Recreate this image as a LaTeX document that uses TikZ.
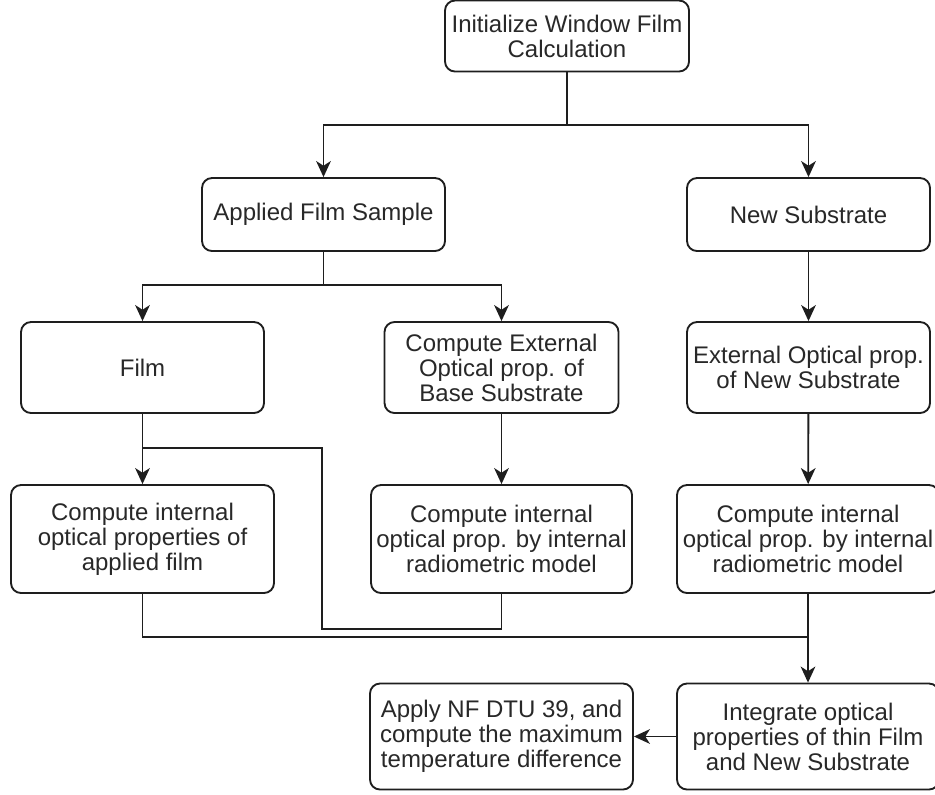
\documentclass[tikz,border=0pt]{standalone}
\usepackage{fontspec}
\setmainfont{Liberation Sans}
\usepackage{tikz}
\usetikzlibrary{arrows.meta,positioning,calc}
\usepackage{xcolor}
\definecolor{cLine}{RGB}{30,30,30}
\definecolor{cText}{RGB}{40,40,40}
\tikzset{
	fbox/.style={draw=cLine, line width=1.4pt, rounded corners=7.5pt,
		fill=white, inner sep=2pt, align=center, text=cText,
		font=\fontsize{18}{18.75}\selectfont},
	farr/.style={-{Stealth[length=12pt,width=11pt,inset=3.5pt]}, line width=1.4pt,
		draw=cLine},
	fline/.style={line width=1.4pt, draw=cLine},
}

\begin{document}
\begin{tikzpicture}[x=0.75pt, y=-0.75pt]
			\useasboundingbox (0,0) rectangle (935,794);
			\node[fbox, minimum width=183pt, minimum height=53.25pt] (init) at (567,36) {Initialize Window Film\\Calculation};
			\node[fbox, minimum width=182.25pt, minimum height=54.75pt] (applied) at (323.5,214.5) {Applied Film Sample};
			\node[fbox, minimum width=182.25pt, minimum height=54.75pt] (newsub) at (808.5,214.5) {New Substrate};
			\node[fbox, minimum width=182.25pt, minimum height=68.25pt] (film) at (142.5,367.5) {Film};
			\node[fbox, minimum width=175.5pt, minimum height=68.25pt] (extbase) at (501.5,367.5) {Compute External\\Optical prop. of\\Base Substrate};
			\node[fbox, minimum width=182.25pt, minimum height=68.25pt] (extnew) at (808.5,367.5) {External Optical prop.\\of New Substrate};
			\node[fbox, minimum width=197.25pt, minimum height=81pt] (intfilm) at (142.5,539) {Compute internal\\optical properties of\\applied film};
			\node[fbox, minimum width=195.75pt, minimum height=81pt] (intbase) at (501.5,539) {Compute internal\\optical prop. by internal\\radiometric model};
			\node[fbox, minimum width=196.5pt, minimum height=81pt] (intnew) at (808,539) {Compute internal\\optical prop. by internal\\radiometric model};
			\node[fbox, minimum width=197.25pt, minimum height=79.5pt] (apply) at (501.5,736.5) {Apply NF DTU 39, and\\compute the maximum\\temperature difference};
			\node[fbox, minimum width=196.5pt, minimum height=79.5pt] (integ) at (808,736.5) {Integrate optical\\properties of thin Film\\and New Substrate};
			\coordinate (split1) at (567,125);
			\coordinate (split2) at (323.5,285);
			\coordinate (back1) at (322,629);
			\coordinate (back2) at (322,448);
			\coordinate (back3) at (142.5,448);
			\coordinate (merge) at (808,637);
			\draw[farr] (init.south) -- (split1) -| (applied.north);
			\draw[farr] (split1) -| (newsub.north);
			\draw[farr] (applied.south) -- (split2) -| (film.north);
			\draw[farr] (split2) -| (extbase.north);
			\draw[farr] (newsub) -- (extnew);
			\draw[farr] (film) -- (intfilm);
			\draw[farr] (extbase) -- (intbase);
			\draw[farr] (extnew) -- (intnew);
			\draw[fline] (intbase.south) |- (back1) -- (back2) -- (back3);
			\draw[fline] (intfilm.south) |- (merge);
			\draw[farr] (intnew) -- (integ);
			\draw[farr] (integ) -- (apply);
		\end{tikzpicture}
\end{document}
